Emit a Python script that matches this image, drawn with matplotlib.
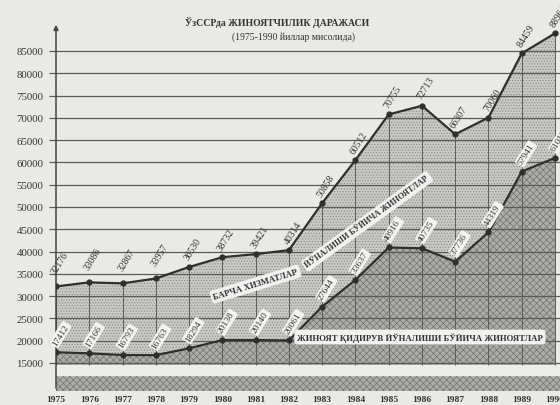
import matplotlib

matplotlib.use("Agg")

import matplotlib.pyplot as plt

years = list(range(1975, 1991))
total = [32176, 33086, 32867, 33957, 36530, 38732, 39421, 40314,
         50858, 60512, 70755, 72713, 66307, 70060, 84459, 88964]
criminal = [17412, 17166, 16793, 16763, 18294, 20138, 20140, 20061,
            27644, 33637, 40916, 40735, 37736, 44319, 57941, 61018]
ytick_values = list(range(15000, 85001, 5000))

title = "ЎзССРда ЖИНОЯТЧИЛИК ДАРАЖАСИ"
subtitle = "(1975-1990 йиллар мисолида)"
band_all_1 = "БАРЧА ХИЗМАТЛАР"
band_all_2 = "ЙЎНАЛИШИ БЎЙИЧА ЖИНОЯТЛАР"
band_crim = "ЖИНОЯТ ҚИДИРУВ ЙЎНАЛИШИ БЎЙИЧА ЖИНОЯТЛАР"

BG = "#e9e9e6"
INK = "#333333"
FONT = ["Liberation Serif", "DejaVu Serif"]

plt.rcParams["hatch.linewidth"] = 0.5

fig = plt.figure(figsize=(5.6, 4.06), dpi=100)
fig.patch.set_facecolor(BG)
ax = fig.add_axes([0.1, 0.0345, 0.9, 0.9655])
ax.set_facecolor(BG)

y_bottom, y_top = 8720, 96660
ax.set_xlim(1975, 1990.15)
ax.set_ylim(y_bottom, y_top)

# filled areas
ax.fill_between(years, criminal, total, facecolor="#c9c9c5", edgecolor="#8a8a87",
                hatch="......", linewidth=0, zorder=1)
ax.fill_between(years, y_bottom, criminal, facecolor="#acacA9", edgecolor="#727270",
                hatch="xxxxx", linewidth=0, zorder=1)
ax.fill_between([1975, 1990.15], y_bottom, 12300, facecolor="#acaca9",
                edgecolor="#727270", hatch="xxxxx", linewidth=0, zorder=1)
ax.axhspan(12300, 14500, color="#ececea", zorder=2)

# grid
ax.hlines(ytick_values, 1974.8, 1990.15, color="#5a5a58", linewidth=0.9,
          zorder=3, clip_on=False)
ax.vlines(years, 14500, total, color="#5a5a58", linewidth=0.7, zorder=3)

# y axis with arrow
ax.annotate("", xy=(1975, 91500), xytext=(1975, y_bottom),
            arrowprops=dict(arrowstyle="-|>", color="#444444", lw=1.1,
                            mutation_scale=7), zorder=4)

# lines
ax.plot(years, total, color="#2f2f2f", linewidth=1.6, marker="o",
        markersize=3.5, zorder=5)
ax.plot(years, criminal, color="#2f2f2f", linewidth=1.6, marker="o",
        markersize=3.5, zorder=5)

# value labels
for i, (x, v) in enumerate(zip(years, total)):
    dy = 8 if i < 4 else 4
    ax.annotate(str(v), (x, v), xytext=(1, dy), textcoords="offset points",
                rotation=58, rotation_mode="anchor", ha="left", va="bottom",
                fontsize=7, color=INK, family=FONT, zorder=6)

for x, v in zip(years, criminal):
    ax.annotate(str(v), (x, v), xytext=(1, 4), textcoords="offset points",
                rotation=58, rotation_mode="anchor", ha="left", va="bottom",
                fontsize=6.8, color=INK, family=FONT, zorder=6,
                bbox=dict(boxstyle="round,pad=0.15", fc="#f3f3f1", ec="none"))

# band labels
band_box = dict(boxstyle="round,pad=0.3", fc="#f1f1ef", ec="none")
ax.text(1981.0, 32700, band_all_1, rotation=17, ha="center", va="center",
        fontsize=6.3, color=INK, family=FONT, fontweight="bold",
        bbox=band_box, zorder=6)
ax.text(1984.35, 46800, band_all_2, rotation=36, ha="center", va="center",
        fontsize=6.0, color=INK, family=FONT, fontweight="bold",
        bbox=band_box, zorder=6)
ax.text(1985.94, 20830, band_crim, ha="center", va="center",
        fontsize=6.3, color=INK, family=FONT, fontweight="bold",
        bbox=band_box, zorder=6)

# ticks
ax.set_yticks(ytick_values)
ax.set_yticklabels([str(v) for v in ytick_values], fontsize=7.8, color=INK,
                   family=FONT)
ax.set_xticks(years)
ax.set_xticklabels([str(y) for y in years], fontsize=6.8, color=INK,
                   family=FONT, fontweight="bold")
ax.tick_params(axis="both", length=0, pad=3)
ax.tick_params(axis="y", pad=9)
for spine in ax.spines.values():
    spine.set_visible(False)

# title
fig.text(0.495, 0.944, title, ha="center", va="center", fontsize=7,
         color=INK, family=FONT, fontweight="bold")
fig.text(0.525, 0.908, subtitle, ha="center", va="center", fontsize=7,
         color=INK, family=FONT)

fig.savefig("out.png", dpi=100, facecolor=BG)
